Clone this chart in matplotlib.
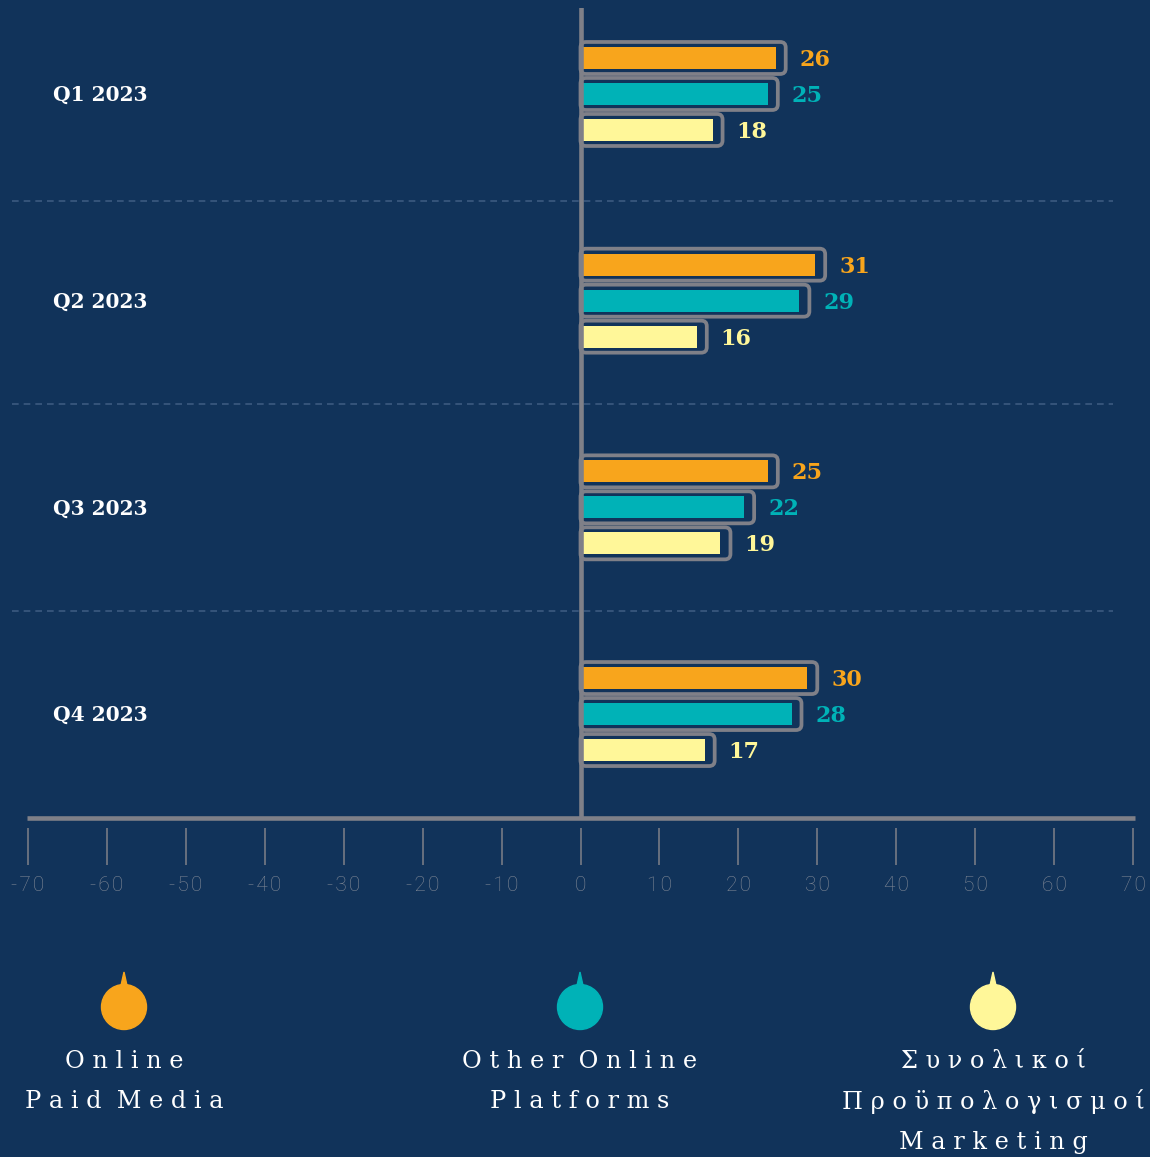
import matplotlib.pyplot as plt
import matplotlib.patches as patches
import matplotlib.transforms as mtransforms

# data
quarters = ['Q1 2023', 'Q2 2023', 'Q3 2023', 'Q4 2023']
series_names = ['Online\nPaid Media', 'Other Online\nPlatforms',
                'Συνολικοί\nΠροϋπολογισμοί\nMarketing']
paid_media = [26, 31, 25, 30]
other_online = [25, 29, 22, 28]
total_budget = [18, 16, 19, 17]
xticks = list(range(-70, 71, 10))

series = [paid_media, other_online, total_budget]
colors = ['#f8a51c', '#00b2b7', '#fff799']
bg = '#11335a'
gray = '#7f8088'

W, H = 1150, 1157
fig = plt.figure(figsize=(W / 100, H / 100), dpi=100, facecolor=bg)

# main axes placed in pixel terms
x0, x1, ytop, ybot = 28, 1133, 8, 818
ax = fig.add_axes([x0 / W, 1 - ybot / H, (x1 - x0) / W, (ybot - ytop) / H])
ax.set_facecolor('none')
ax.set_xlim(-70, 70)
ax.set_ylim(3.503, -0.416)

px_x = (x1 - x0) / 140.0          # pixels per x unit
px_y = (ybot - ytop) / 3.919      # pixels per y unit

for s in ax.spines.values():
    s.set_visible(False)
ax.spines['bottom'].set_position(('outward', 7.2))
ax.set_yticks([])
ax.set_xticks(xticks, ['\u200a'.join(str(t)) for t in xticks])
ax.tick_params(axis='x', length=26.5, width=1.1, color=gray, pad=8,
               labelcolor='#808895', labelsize=15)
for lab in ax.get_xticklabels():
    lab.set_family(['Roboto', 'DejaVu Sans'])
    lab.set_fontweight('light')

# dashed separators
sep = mtransforms.blended_transform_factory(ax.transAxes, ax.transData)
for y in [0.52, 1.5, 2.5]:
    ax.plot([-0.0145, 0.982], [y, y], transform=sep, color='#3c5a80',
            lw=1.2, ls=(0, (4, 3)), clip_on=False, zorder=1)

offsets = [-36 / px_y, 0, 36 / px_y]
fill_h = 22 / px_y
box_h = 32 / px_y
inset = 10 / px_x
for i, (vals, col, off) in enumerate(zip(series, colors, offsets)):
    for q, v in enumerate(vals):
        yc = q + off
        box = patches.FancyBboxPatch((0, yc - box_h / 2), v, box_h,
                                     boxstyle='round,pad=0,rounding_size=0.7',
                                     mutation_aspect=px_x / px_y,
                                     fc='none', ec=gray, lw=2.7, zorder=2)
        ax.add_patch(box)
        ax.barh(yc, v - inset, height=fill_h, color=col, zorder=3)
        ax.annotate(str(v), (v, yc), xytext=(14, -2), textcoords='offset pixels',
                    ha='left', va='center', color=col, fontsize=16,
                    fontweight='bold', family='DejaVu Serif', zorder=4)

# quarter labels
for q, name in enumerate(quarters):
    ax.annotate(name, ((53 - x0) / (x1 - x0), q), xycoords=sep,
                xytext=(0, -1), textcoords='offset pixels', ha='left',
                va='center', color='white', fontsize=14.5, fontweight='bold',
                family='DejaVu Serif')

# zero line and axis line
ax.axvline(0, color=gray, lw=3.3, zorder=5)
ax.plot([-0.001, 1.002], [0, 0], transform=ax.transAxes, color=gray, lw=3.3,
        clip_on=False, zorder=5, solid_capstyle='butt')

# legend in pixel coordinates
leg = fig.add_axes([0, 0, 1, 1])
leg.set_xlim(0, W)
leg.set_ylim(H, 0)
leg.axis('off')
leg.patch.set_alpha(0)
leg_x = [124, 580, 993]


def spaced(text):
    return '  '.join(' '.join(word) for word in text.split(' '))


for cx, col, name in zip(leg_x, colors, series_names):
    leg.add_patch(patches.Circle((cx, 1007), 22.5, color=col))
    leg.add_patch(patches.Polygon([(cx - 4, 990), (cx + 4, 990), (cx, 972)],
                                  closed=True, color=col))
    for j, line in enumerate(name.split('\n')):
        leg.text(cx, 1062 + 40 * j, spaced(line), ha='center', va='center',
                 color='white', fontsize=17.3, family='DejaVu Serif')

fig.savefig('out.png', dpi=100, facecolor=bg)
